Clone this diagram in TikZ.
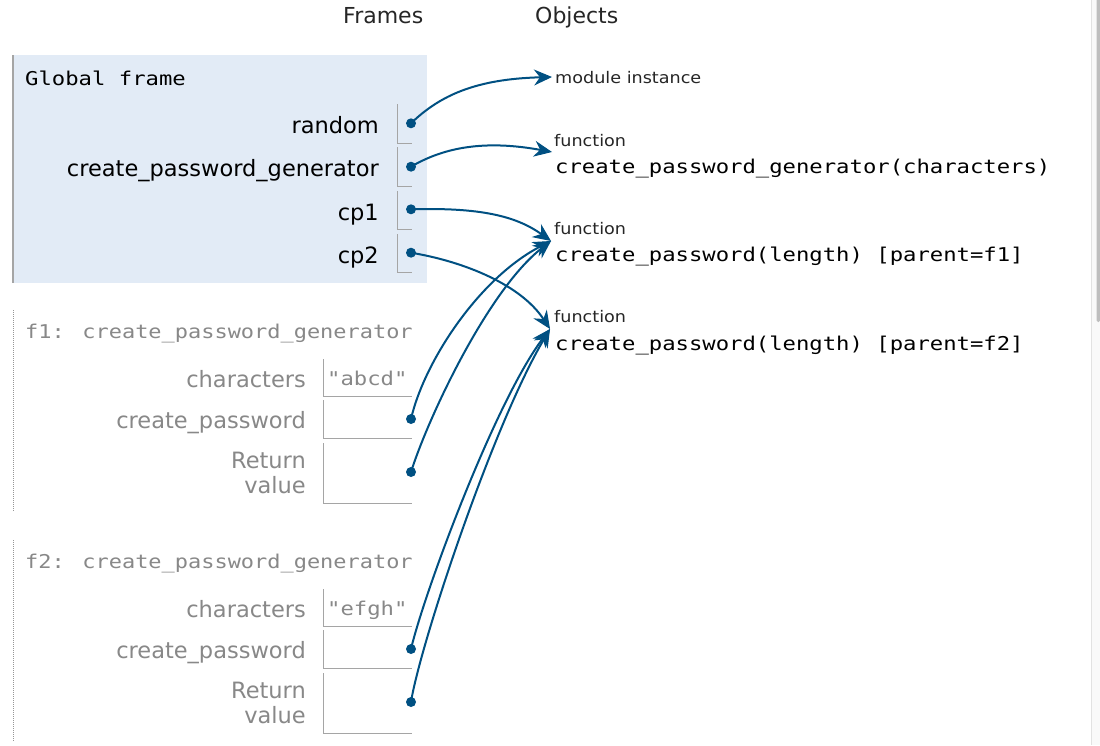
\documentclass[tikz,border=0pt]{standalone}
\usepackage{fontspec}
\usetikzlibrary{arrows.meta}
\newfontfamily\lblfont{DejaVu Sans}
\newfontfamily\smallfont[FakeStretch=1.1]{DejaVu Sans}
\newfontfamily\codefont[FakeStretch=1.17]{DejaVu Sans Mono}
\newfontfamily\titlefont[FakeStretch=1.155]{DejaVu Sans Mono}
\definecolor{ptblue}{RGB}{0,80,130}
\definecolor{framebg}{RGB}{226,235,246}
\definecolor{cellgray}{RGB}{165,165,165}
\definecolor{dotgray}{RGB}{150,150,150}
\definecolor{txtgray}{RGB}{136,136,136}
\definecolor{scrollbg}{RGB}{249,249,249}
\definecolor{scrollline}{RGB}{226,226,226}
\definecolor{thumb}{RGB}{190,190,190}
\tikzset{ptrhead/.tip={Stealth[length=18pt,width=16pt,inset=6pt,fill=ptblue,line width=1pt]}}
\begin{document}
\begin{tikzpicture}[x=1pt,y=-1pt,
  hdr/.style={font=\lblfont\fontsize{22}{24}\selectfont, anchor=base west, inner sep=0pt, text=black!85},
  varname/.style={font=\lblfont\fontsize{22.5}{25}\selectfont, anchor=base east, inner sep=0pt, text=black},
  gvarname/.style={varname, text=txtgray},
  typelbl/.style={font=\smallfont\fontsize{16}{18}\selectfont, anchor=base west, inner sep=0pt, text=black!85},
  code/.style={font=\codefont\fontsize{19}{22}\selectfont, anchor=base west, inner sep=0pt, text=black},
  gcode/.style={code, text=txtgray},
  ftitle/.style={font=\titlefont\fontsize{19}{22}\selectfont, anchor=base west, inner sep=0pt, text=txtgray},
  gtitle/.style={font=\codefont\fontsize{19}{22}\selectfont, anchor=base west, inner sep=0pt, text=black},
  dot/.style={circle, fill=ptblue, inner sep=0pt, minimum size=10pt},
  cell/.style={draw=cellgray, line width=1pt},
  ptr/.style={draw=ptblue, line width=2pt, -ptrhead},
]
\useasboundingbox (0,0) rectangle (1100,745);
\fill[white] (0,0) rectangle (1100,745);
% scrollbar
\fill[scrollbg] (1091,0) rectangle (1100,745);
\draw[scrollline, line width=1pt] (1091,0) -- (1091,745);
\fill[thumb, rounded corners=1.5pt] (1096.5,-5) rectangle (1100,322);

% headers
\node[hdr] (hframes) at (343,23.5) {Frames};
\node[hdr] (hobjects) at (535,23.5) {Objects};

% global frame
\fill[framebg] (12,55) rectangle (427,283);
\draw[cellgray, line width=2pt] (13,55) -- (13,283);
\node[gtitle] (gtitle) at (25,85) {Global frame};

\node[varname] (nrandom) at (379,133.5) {random};
\node[varname] (ncpg) at (379,176.5) {create\_password\_generator};
\node[varname] (ncp1) at (379,220) {cp1};
\node[varname] (ncp2) at (379,263) {cp2};

\draw[cell] (397,104) -- (397,143) -- (412,143);
\draw[cell] (397,147) -- (397,186) -- (412,186);
\draw[cell] (397,191) -- (397,229) -- (412,229);
\draw[cell] (397,234) -- (397,272) -- (412,272);

\node[dot] (drandom) at (411,123.3) {};
\node[dot] (dcpg) at (411,166.7) {};
\node[dot] (dcp1) at (411,209.3) {};
\node[dot] (dcp2) at (411,252.7) {};

% f1 frame
\draw[dotgray, line width=1pt, dash pattern=on 1pt off 1pt] (13,310) -- (13,512);
\node[ftitle] (f1title) at (25,338) {f1: create\_password\_generator};
\node[gvarname] (f1nchars) at (306,387) {characters};
\node[gvarname] (f1ncp) at (306,428.5) {create\_password};
\node[gvarname] (f1nret1) at (306,468.5) {Return};
\node[gvarname] (f1nret2) at (306,493.5) {value};
\draw[cell] (323,359) -- (323,396) -- (412,396);
\draw[cell] (323,400) -- (323,438) -- (412,438);
\draw[cell] (323,443) -- (323,503) -- (412,503);
\node[gcode] (f1vchars) at (327,385) {"abcd"};
\node[dot] (df1cp) at (411,419) {};
\node[dot] (df1ret) at (411,472) {};

% f2 frame
\draw[dotgray, line width=1pt, dash pattern=on 1pt off 1pt] (13,540) -- (13,742);
\node[ftitle] (f2title) at (25,568) {f2: create\_password\_generator};
\node[gvarname] (f2nchars) at (306,617) {characters};
\node[gvarname] (f2ncp) at (306,658.5) {create\_password};
\node[gvarname] (f2nret1) at (306,698.5) {Return};
\node[gvarname] (f2nret2) at (306,723.5) {value};
\draw[cell] (323,589) -- (323,626) -- (412,626);
\draw[cell] (323,630) -- (323,668) -- (412,668);
\draw[cell] (323,673) -- (323,733) -- (412,733);
\node[gcode] (f2vchars) at (327,615) {"efgh"};
\node[dot] (df2cp) at (411,649) {};
\node[dot] (df2ret) at (411,702) {};

% objects
\node[typelbl] (omod) at (555,83) {module instance};
\node[typelbl] (ofun1) at (554,146.7) {function};
\node[code] (ocpg) at (555,173.3) {create\_password\_generator(characters)};
\node[typelbl] (ofun2) at (554,234.5) {function};
\node[code] (ocp1) at (555,261.7) {create\_password(length) [parent=f1]};
\node[typelbl] (ofun3) at (554,322.5) {function};
\node[code] (ocp2) at (555,350) {create\_password(length) [parent=f2]};

\coordinate (tmod) at (552,77);
\coordinate (tcpg) at (552,152);
\coordinate (tcp1) at (551,241);
\coordinate (tcp2) at (550,329);

% pointers
\draw[ptr] (drandom.center) .. controls +(29,-28) and +(-76,2) .. (tmod);
\draw[ptr] (dcpg.center) .. controls +(34,-20) and +(-66,-12) .. (tcpg);
\draw[ptr] (dcp1.center) .. controls +(69,-2) and +(-35,-25) .. (tcp1);
\draw[ptr] (dcp2.center) .. controls +(54,9) and +(-29,-44) .. (tcp2);
\draw[ptr] (df1cp.center) .. controls +(13,-57) and +(-72,37) .. (tcp1);
\draw[ptr] (df1ret.center) .. controls +(17,-54) and +(-63,49) .. (tcp1);
\draw[ptr] (df2cp.center) .. controls +(14,-59) and +(-54,71) .. (tcp2);
\draw[ptr] (df2ret.center) .. controls +(9,-57) and +(-57,96) .. (tcp2);
\end{tikzpicture}
\end{document}
